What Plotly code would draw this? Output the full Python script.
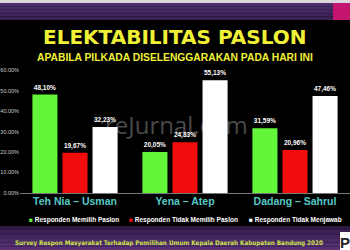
import plotly.graph_objects as go

candidates = ["Teh Nia – Usman", "Yena – Atep", "Dadang – Sahrul"]
memilih = [48.10, 20.05, 31.59]
tidak_memilih = [19.67, 24.83, 20.96]
tidak_menjawab = [32.23, 55.13, 47.46]
series_names = ["Responden Memilih Paslon", "Responden Tidak Memilih Paslon", "Responden Tidak Menjawab"]
series_colors = ["#62f53a", "#f20c0c", "#ffffff"]
tick_vals = [0, 10, 20, 30, 40, 50, 60]
tick_text = ["0.00%", "10.00%", "20.00%", "30.00%", "40.00%", "50.00%", "60.00%"]

def fmt(v):
    return f"{v:.2f}".replace(".", ",") + "%"

fig = go.Figure()
for name, vals, col in zip(series_names, [memilih, tidak_memilih, tidak_menjawab], series_colors):
    fig.add_trace(go.Bar(
        x=candidates, y=vals, name=name, marker=dict(color=col, line=dict(width=0)),
        text=[fmt(v) for v in vals], textposition="outside", cliponaxis=False,
        textfont=dict(family="Liberation Sans", size=6.5, color="#ffffff", weight="bold"),
        showlegend=False,
    ))

# helper: pixel -> paper coordinates
L, R, T, B = 20, 350, 60, 193
def px(x):
    return (x - L) / (R - L)
def py(y):
    return (B - y) / (B - T)

shapes = []
# top banner
shapes.append(dict(type="rect", xref="paper", yref="paper", x0=px(0), x1=px(350), y0=py(3), y1=py(0),
                   fillcolor="#d9d6dc", line=dict(width=0), layer="below"))
band_cols = ["#4b2c6c", "#472a66", "#432760", "#3e2459", "#3a2153"]
for i, c in enumerate(band_cols):
    shapes.append(dict(type="rect", xref="paper", yref="paper", x0=px(0), x1=px(350),
                       y0=py(3 + (i + 1) * 3.4), y1=py(3 + i * 3.4),
                       fillcolor=c, line=dict(width=0), layer="below"))
shapes.append(dict(type="rect", xref="paper", yref="paper", x0=px(333), x1=px(350), y0=py(20), y1=py(3),
                   fillcolor="#c4166f", line=dict(width=0), layer="below"))
# footer band
foot_cols = ["#2e1a40", "#3a2052", "#43255e", "#4b2a68", "#522e70", "#573276"]
for i, c in enumerate(foot_cols):
    shapes.append(dict(type="rect", xref="paper", yref="paper", x0=px(0), x1=px(350),
                       y0=py(226 + (i + 1) * 4.1), y1=py(226 + i * 4.1),
                       fillcolor=c, line=dict(width=0), layer="below"))
shapes.append(dict(type="rect", xref="paper", yref="paper", x0=px(340), x1=px(350), y0=py(250), y1=py(232),
                   fillcolor="#ffffff", line=dict(width=0), layer="below"))

def ann(text, x, y, size, color, family="Liberation Sans", xanchor="center"):
    return dict(text=text, x=px(x), y=py(y), xref="paper", yref="paper", xanchor=xanchor, yanchor="middle",
                showarrow=False, font=dict(family=family, size=size, color=color))

annotations = [
    ann("reJurnal.com", 176, 124, 24, "rgba(255,255,255,0.30)", family="Open Sans"),
    ann("<b>ELEKTABILITAS PASLON</b>", 174, 37, 20, "#f0f036", family="DejaVu Sans"),
    ann("<b>APABILA PILKADA DISELENGGARAKAN PADA HARI INI</b>", 175, 57, 10.3, "#f0f036"),
    ann("<b>Survey Respon Masyarakat Terhadap Pemilihan Umum Kepala Daerah Kabupaten Bandung 2020</b>",
        13, 243, 6.3, "#cfe24c", family="DejaVu Sans Condensed, Liberation Sans Narrow, Liberation Sans",
        xanchor="left"),
    ann("<b>P</b>", 345, 242, 15, "#222222"),
]
leg_x = [27, 127, 247]
for name, col, x in zip(series_names, series_colors, leg_x):
    annotations.append(ann(f"<span style='color:{col}'>■</span> <b>{name}</b>", x, 220, 6.5, "#ffffff",
                           xanchor="left"))

fig.update_layout(
    width=350, height=250,
    margin=dict(l=L, r=350 - R, t=T, b=250 - B, pad=0),
    paper_bgcolor="#000000", plot_bgcolor="#000000",
    barmode="group", bargap=0.18, bargroupgap=1 / 6,
    shapes=shapes, annotations=annotations,
    xaxis=dict(showgrid=False, showline=False, ticks="", zeroline=False,
               tickfont=dict(family="Liberation Sans", size=10.5, color="#55c8c6", weight="bold")),
    yaxis=dict(range=[0, 65], tickvals=tick_vals, ticktext=tick_text, showgrid=False,
               zeroline=True, zerolinecolor="#777777", zerolinewidth=1, showline=False, ticks="",
               tickfont=dict(family="Liberation Sans", size=5.5, color="#cccccc")),
    font=dict(family="Liberation Sans"),
)

fig.write_html("out.html")
